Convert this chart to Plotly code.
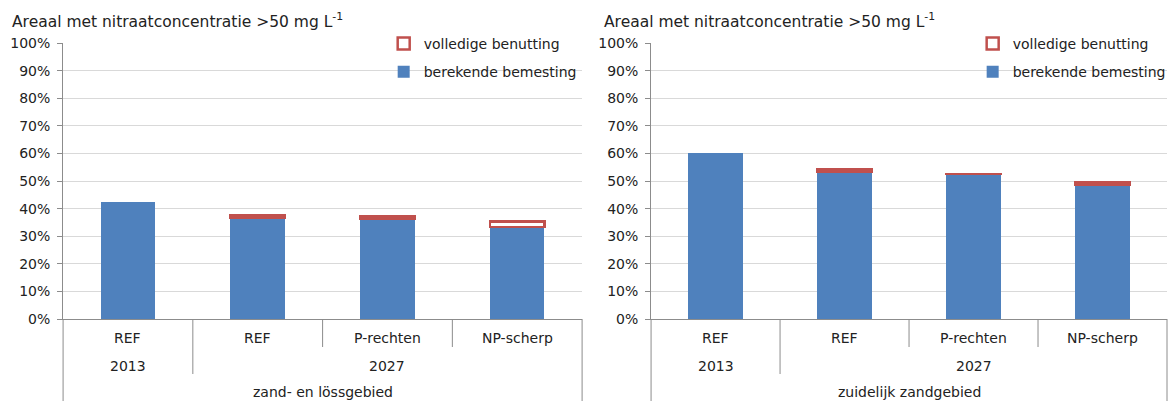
import plotly.graph_objects as go

TITLE = "Areaal met nitraatconcentratie >50 mg L<sup>-1</sup>"

# categorie-as: scenario / jaar / gebied
years = ["2013", "2027", "2027", "2027"]
scenarios = ["REF", "REF", "P-rechten", "NP-scherp"]
regions = ["zand- en lössgebied", "zuidelijk zandgebied"]

# % areaal met nitraat > 50 mg/L
berekend_zand = [42.5, 36.6, 36.35, 33.35]
volledig_zand = [None, 0.9, 0.8, 2.0]
berekend_zuid = [60.0, 53.4, 52.5, 48.6]
volledig_zuid = [None, 0.9, 0.1, 0.85]

y_ticks = list(range(0, 101, 10))
y_labels = [f"{v}%" for v in y_ticks]

BLUE = "#4f81bd"
RED = "#c0504d"
GREY = "#8c8c8c"
GRID = "#d9d9d9"
TXT = "#222222"
FONT = "Verdana, DejaVu Sans, sans-serif"

W, H = 1171, 401
MT, MB = 43, 82
PLOT_H = H - MT - MB


def ydom(px):
    """pixel (vanaf bovenkant figuur) -> y-domein fractie"""
    return (H - MB - px) / PLOT_H


fig = go.Figure()

panels = [
    ("", berekend_zand, volledig_zand, regions[0], "legend"),
    ("2", berekend_zuid, volledig_zuid, regions[1], "legend2"),
]

for ax, blue, red, region, leg in panels:
    fig.add_bar(x=[years, scenarios], y=blue, name="berekende bemesting",
                marker=dict(color=BLUE, line_width=0), legendgroup="b",
                legendrank=2, xaxis="x" + ax, yaxis="y" + ax, legend=leg)
    fig.add_bar(x=[years, scenarios], y=red, name="volledige benutting",
                marker=dict(color="white", line=dict(color=RED, width=2.5)),
                legendgroup="v", legendrank=1,
                xaxis="x" + ax, yaxis="y" + ax, legend=leg)

    xd, yd = f"x{ax} domain", f"y{ax} domain"
    n = len(scenarios)
    line = dict(color=GREY, width=1)

    # scheidingslijnen tussen categorieën
    for i in range(n + 1):
        if i == 0 or i == n:
            y1 = ydom(401)
        elif years[i] != years[i - 1]:
            y1 = ydom(374)
        else:
            y1 = ydom(347)
        fig.add_shape(type="line", xref=xd, yref=yd, x0=i / n, x1=i / n,
                      y0=0, y1=y1, line=line)

    # scenario labels
    for i, s in enumerate(scenarios):
        fig.add_annotation(text=s, xref=xd, yref=yd, x=(i + 0.5) / n,
                           xanchor="center", y=ydom(338), yanchor="middle",
                           showarrow=False, font=dict(size=14, color=TXT))
    # jaar labels
    start = 0
    for i in range(1, n + 1):
        if i == n or years[i] != years[start]:
            fig.add_annotation(text=years[start], xref=xd, yref=yd,
                               x=(start + i) / 2 / n, xanchor="center",
                               y=ydom(366), yanchor="middle",
                               showarrow=False, font=dict(size=14, color=TXT))
            start = i
    # gebied
    fig.add_annotation(text=region, xref=xd, yref=yd, x=0.5, xanchor="center",
                       y=ydom(392), yanchor="middle", showarrow=False,
                       font=dict(size=14, color=TXT))

# titels
for xp in (10 / W, 604 / W):
    fig.add_annotation(text=TITLE, xref="paper", yref="paper", x=xp,
                       xanchor="left", y=ydom(20), yanchor="middle",
                       showarrow=False, font=dict(size=15.5, color=TXT))

xaxis_style = dict(type="multicategory", showticklabels=False, ticks="",
                   showgrid=False, showline=True, linecolor=GREY,
                   showdividers=False, zeroline=False)
yaxis_style = dict(range=[0, 100], tickmode="array", tickvals=y_ticks,
                   ticktext=y_labels, automargin=False, ticklabelstandoff=4,
                   showgrid=True, gridcolor=GRID, gridwidth=1,
                   showline=True, linecolor=GREY, ticks="outside",
                   ticklen=5, tickcolor=GREY, zeroline=False,
                   tickfont=dict(size=14, color=TXT))

legend_style = dict(xanchor="left", yanchor="top", y=ydom(28),
                    bgcolor="rgba(0,0,0,0)", font=dict(size=14, color=TXT),
                    traceorder="grouped", tracegroupgap=7)

fig.update_layout(
    width=W, height=H,
    margin=dict(l=0, r=0, t=MT, b=MB),
    paper_bgcolor="white", plot_bgcolor="white",
    font=dict(family=FONT, size=14, color=TXT),
    barmode="stack", bargap=0.58,
    xaxis=dict(domain=[63.3 / W, 584.1 / W], anchor="y", **xaxis_style),
    yaxis=dict(anchor="x", **yaxis_style),
    xaxis2=dict(domain=[653.3 / W, 1.0], anchor="y2", **xaxis_style),
    yaxis2=dict(anchor="x2", **yaxis_style),
    legend=dict(x=385 / W, **legend_style),
    legend2=dict(x=976 / W, **legend_style),
)

fig.write_html("out.html", config={"displayModeBar": False},
               post_script="document.body.style.margin='0';")
